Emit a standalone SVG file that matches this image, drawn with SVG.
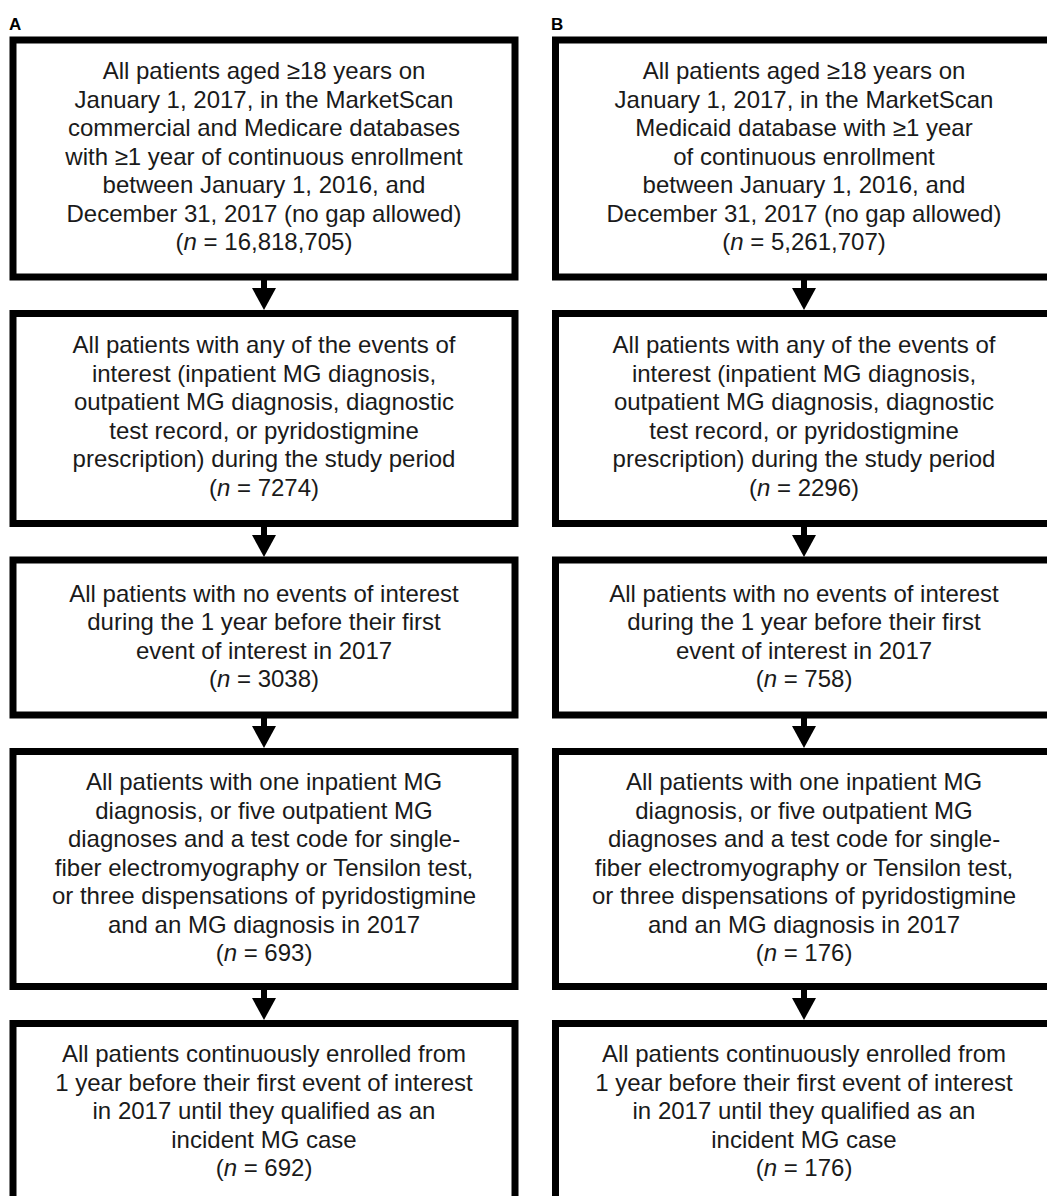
<svg xmlns="http://www.w3.org/2000/svg" width="1047" height="1196" viewBox="0 0 1047 1196">
<defs>
<style>
.box{fill:#fff;stroke:#000;stroke-width:7}
.t{font-family:"Liberation Sans",Arial,sans-serif;font-size:24px;fill:#1a1a1a;text-anchor:middle}
.lbl{font-family:"Liberation Sans",Arial,sans-serif;font-size:17px;font-weight:bold;fill:#000}
.stem{stroke:#000;stroke-width:6}
</style>
</defs>
<rect width="1047" height="1196" fill="#fff"/>
<text class="lbl" x="9" y="30">A</text>
<text class="lbl" x="551" y="30">B</text>

<g id="connectors">
<line class="stem" x1="264" y1="280" x2="264" y2="292"/><polygon points="252,288 276,288 264,310"/>
<line class="stem" x1="264" y1="527" x2="264" y2="539"/><polygon points="252,535 276,535 264,557"/>
<line class="stem" x1="264" y1="718" x2="264" y2="730"/><polygon points="252,726 276,726 264,748"/>
<line class="stem" x1="264" y1="990" x2="264" y2="1002"/><polygon points="252,998 276,998 264,1020"/>
<line class="stem" x1="804" y1="280" x2="804" y2="292"/><polygon points="792,288 816,288 804,310"/>
<line class="stem" x1="804" y1="527" x2="804" y2="539"/><polygon points="792,535 816,535 804,557"/>
<line class="stem" x1="804" y1="718" x2="804" y2="730"/><polygon points="792,726 816,726 804,748"/>
<line class="stem" x1="804" y1="990" x2="804" y2="1002"/><polygon points="792,998 816,998 804,1020"/>
</g>

<g id="a1"><rect class="box" x="13" y="40" width="502" height="237"/>
<text class="t"><tspan x="264" y="79">All patients aged ≥18 years on</tspan><tspan x="264" y="107.5">January 1, 2017, in the MarketScan</tspan><tspan x="264" y="136">commercial and Medicare databases</tspan><tspan x="264" y="164.5">with ≥1 year of continuous enrollment</tspan><tspan x="264" y="193">between January 1, 2016, and</tspan><tspan x="264" y="221.5">December 31, 2017 (no gap allowed)</tspan><tspan x="264" y="250">(<tspan font-style="italic">n</tspan> = 16,818,705)</tspan></text></g>

<g id="a2"><rect class="box" x="13" y="313.5" width="502" height="210"/>
<text class="t"><tspan x="264" y="353">All patients with any of the events of</tspan><tspan x="264" y="381.5">interest (inpatient MG diagnosis,</tspan><tspan x="264" y="410">outpatient MG diagnosis, diagnostic</tspan><tspan x="264" y="438.5">test record, or pyridostigmine</tspan><tspan x="264" y="467">prescription) during the study period</tspan><tspan x="264" y="495.5">(<tspan font-style="italic">n</tspan> = 7274)</tspan></text></g>

<g id="a3"><rect class="box" x="13" y="560" width="502" height="155"/>
<text class="t"><tspan x="264" y="601.5">All patients with no events of interest</tspan><tspan x="264" y="630">during the 1 year before their first</tspan><tspan x="264" y="658.5">event of interest in 2017</tspan><tspan x="264" y="687">(<tspan font-style="italic">n</tspan> = 3038)</tspan></text></g>

<g id="a4"><rect class="box" x="13" y="751.5" width="502" height="235"/>
<text class="t"><tspan x="264" y="790">All patients with one inpatient MG</tspan><tspan x="264" y="818.5">diagnosis, or five outpatient MG</tspan><tspan x="264" y="847">diagnoses and a test code for single-</tspan><tspan x="264" y="875.5">fiber electromyography or Tensilon test,</tspan><tspan x="264" y="904">or three dispensations of pyridostigmine</tspan><tspan x="264" y="932.5">and an MG diagnosis in 2017</tspan><tspan x="264" y="961">(<tspan font-style="italic">n</tspan> = 693)</tspan></text></g>

<g id="a5"><rect class="box" x="13" y="1023.5" width="502" height="200"/>
<text class="t"><tspan x="264" y="1062">All patients continuously enrolled from</tspan><tspan x="264" y="1090.5">1 year before their first event of interest</tspan><tspan x="264" y="1119">in 2017 until they qualified as an</tspan><tspan x="264" y="1147.5">incident MG case</tspan><tspan x="264" y="1176">(<tspan font-style="italic">n</tspan> = 692)</tspan></text></g>

<g id="b1"><rect class="box" x="555.5" y="40" width="502" height="237"/>
<text class="t"><tspan x="804" y="79">All patients aged ≥18 years on</tspan><tspan x="804" y="107.5">January 1, 2017, in the MarketScan</tspan><tspan x="804" y="136">Medicaid database with ≥1 year</tspan><tspan x="804" y="164.5">of continuous enrollment</tspan><tspan x="804" y="193">between January 1, 2016, and</tspan><tspan x="804" y="221.5">December 31, 2017 (no gap allowed)</tspan><tspan x="804" y="250">(<tspan font-style="italic">n</tspan> = 5,261,707)</tspan></text></g>

<g id="b2"><rect class="box" x="555.5" y="313.5" width="502" height="210"/>
<text class="t"><tspan x="804" y="353">All patients with any of the events of</tspan><tspan x="804" y="381.5">interest (inpatient MG diagnosis,</tspan><tspan x="804" y="410">outpatient MG diagnosis, diagnostic</tspan><tspan x="804" y="438.5">test record, or pyridostigmine</tspan><tspan x="804" y="467">prescription) during the study period</tspan><tspan x="804" y="495.5">(<tspan font-style="italic">n</tspan> = 2296)</tspan></text></g>

<g id="b3"><rect class="box" x="555.5" y="560" width="502" height="155"/>
<text class="t"><tspan x="804" y="601.5">All patients with no events of interest</tspan><tspan x="804" y="630">during the 1 year before their first</tspan><tspan x="804" y="658.5">event of interest in 2017</tspan><tspan x="804" y="687">(<tspan font-style="italic">n</tspan> = 758)</tspan></text></g>

<g id="b4"><rect class="box" x="555.5" y="751.5" width="502" height="235"/>
<text class="t"><tspan x="804" y="790">All patients with one inpatient MG</tspan><tspan x="804" y="818.5">diagnosis, or five outpatient MG</tspan><tspan x="804" y="847">diagnoses and a test code for single-</tspan><tspan x="804" y="875.5">fiber electromyography or Tensilon test,</tspan><tspan x="804" y="904">or three dispensations of pyridostigmine</tspan><tspan x="804" y="932.5">and an MG diagnosis in 2017</tspan><tspan x="804" y="961">(<tspan font-style="italic">n</tspan> = 176)</tspan></text></g>

<g id="b5"><rect class="box" x="555.5" y="1023.5" width="502" height="200"/>
<text class="t"><tspan x="804" y="1062">All patients continuously enrolled from</tspan><tspan x="804" y="1090.5">1 year before their first event of interest</tspan><tspan x="804" y="1119">in 2017 until they qualified as an</tspan><tspan x="804" y="1147.5">incident MG case</tspan><tspan x="804" y="1176">(<tspan font-style="italic">n</tspan> = 176)</tspan></text></g>
</svg>
